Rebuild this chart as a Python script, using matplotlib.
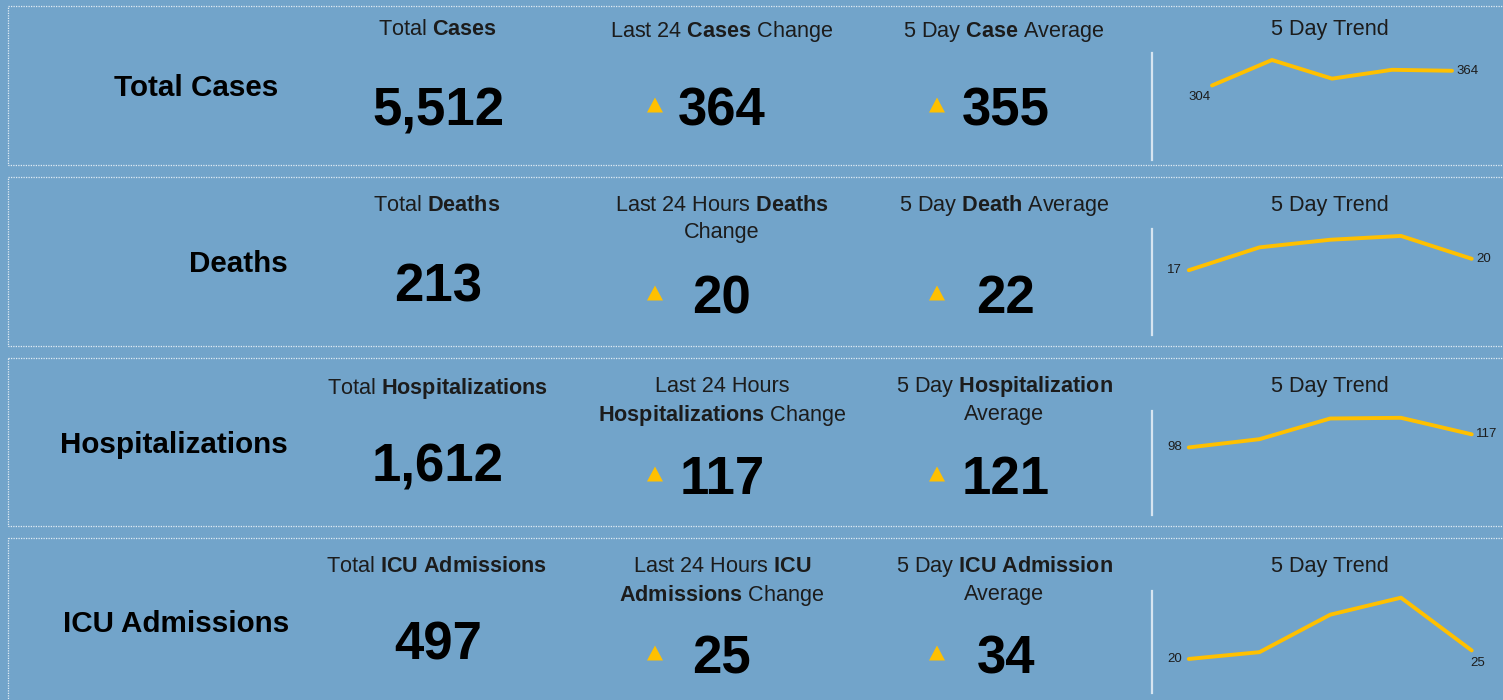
import matplotlib
matplotlib.use("Agg")
import matplotlib.pyplot as plt
from matplotlib.patches import Rectangle, Polygon

plt.rcParams["font.family"] = ["Liberation Sans", "DejaVu Sans"]
plt.rcParams["mathtext.fontset"] = "custom"
plt.rcParams["mathtext.rm"] = "Liberation Sans"
plt.rcParams["mathtext.bf"] = "Liberation Sans:bold"

# --- data ---
row_titles = ["Total Cases", "Deaths", "Hospitalizations", "ICU Admissions"]
total_headers = ["Total $\\mathbf{Cases}$", "Total $\\mathbf{Deaths}$",
                 "Total $\\mathbf{Hospitalizations}$",
                 "Total $\\mathbf{ICU}$ $\\mathbf{Admissions}$"]
change_headers = ["Last 24 $\\mathbf{Cases}$ Change",
                  "Last 24 Hours $\\mathbf{Deaths}$\nChange",
                  "Last 24 Hours\n$\\mathbf{Hospitalizations}$ Change",
                  "Last 24 Hours $\\mathbf{ICU}$\n$\\mathbf{Admissions}$ Change"]
avg_headers = ["5 Day $\\mathbf{Case}$ Average",
               "5 Day $\\mathbf{Death}$ Average",
               "5 Day $\\mathbf{Hospitalization}$\nAverage",
               "5 Day $\\mathbf{ICU}$ $\\mathbf{Admission}$\nAverage"]
totals = [5512, 213, 1612, 497]
changes = [364, 20, 117, 25]
averages = [355, 22, 121, 34]
cases_trend = [304, 408, 332, 368, 364]
deaths_trend = [17, 23, 25, 26, 20]
hosp_trend = [98, 110, 140, 141, 117]
icu_trend = [20, 24, 46, 56, 25]
trends = [cases_trend, deaths_trend, hosp_trend, icu_trend]

# --- layout (pixels) ---
W, H = 1503, 700
BG = "#72A4CA"
GOLD = "#FFC000"
DARK = "#1c1c1c"

panel_tops = [6, 177, 358, 538]
panel_bottoms = [165, 346, 526, 712]
title_x = [278, 288, 288, 289]
title_y = [88, 264, 445, 624]
header_y = [19, 195, 376, 556]
avg_dy = [1, -2, -2, -2]
total_y = [112, 288, 468, 646]
value_y = [111, 299, 480, 659]
spark_top = [53, 229, 411, 591]
spark_bot = [160, 335, 515, 693]
spark_xlim = [(-1.0, 4.8), (-0.52, 4.4), (-0.52, 4.4), (-0.52, 4.4)]
first_off = [(-9, -8, "center"), (-5, 0, "right"), (-5, 0, "right"), (-5, 0, "right")]
last_off = [(3, 0, "left"), (3, 0, "left"), (3, 0, "left"), (4, -9, "center")]

fig = plt.figure(figsize=(W / 100, H / 100), dpi=100, facecolor=BG)
ax = fig.add_axes([0, 0, 1, 1])
ax.set_xlim(0, W)
ax.set_ylim(H, 0)
ax.axis("off")
ax.set_facecolor(BG)


def triangle(cx, cy):
    pts = [(cx - 8, cy + 7.5), (cx + 8, cy + 7.5), (cx, cy - 7.5)]
    ax.add_patch(Polygon(pts, closed=True, color=GOLD, lw=0))


for i in range(4):
    top, bot = panel_tops[i], panel_bottoms[i]
    ax.add_patch(Rectangle((7.5, top), W + 20, bot - top, fill=False,
                           ec="white", lw=0.9, ls=(0, (1, 1)), alpha=0.8))

    ax.text(title_x[i], title_y[i], row_titles[i], ha="right", va="center",
            fontsize=21.3, fontweight="bold", color="black")

    ax.text(437, header_y[i], total_headers[i], ha="center", va="top",
            fontsize=15.6, color=DARK)
    ax.text(722, header_y[i], change_headers[i], ha="center", va="top",
            fontsize=15.6, color=DARK, linespacing=1.35, multialignment="center")
    ax.text(1004, header_y[i] + avg_dy[i], avg_headers[i], ha="center", va="top",
            fontsize=15.6, color=DARK, linespacing=1.3, multialignment="center")
    ax.text(1330, header_y[i], "5 Day Trend", ha="center", va="top",
            fontsize=15.6, color=DARK)

    ax.text(438, total_y[i], f"{totals[i]:,}", ha="center", va="center",
            fontsize=38, fontweight="bold", color="black")

    triangle(655, value_y[i] - 6)
    ax.text(722, value_y[i], f"{changes[i]:,}", ha="center", va="center",
            fontsize=38, fontweight="bold", color="black")
    triangle(937, value_y[i] - 6)
    ax.text(1006, value_y[i], f"{averages[i]:,}", ha="center", va="center",
            fontsize=38, fontweight="bold", color="black")

    # sparkline
    x0, x1 = 1152, 1500
    sax = fig.add_axes([x0 / W, 1 - spark_bot[i] / H, (x1 - x0) / W,
                        (spark_bot[i] - spark_top[i]) / H])
    sax.set_facecolor("none")
    vals = trends[i]
    xs = list(range(len(vals)))
    sax.plot(xs, vals, color=GOLD, lw=2.8, solid_capstyle="round",
             solid_joinstyle="round")
    sax.set_xlim(*spark_xlim[i])
    sax.set_ylim(0, max(vals) * 1.07)
    for s in ["top", "right", "bottom"]:
        sax.spines[s].set_visible(False)
    sax.spines["left"].set_color("#D6E4F0")
    sax.spines["left"].set_linewidth(1.6)
    sax.set_xticks([])
    sax.set_yticks([])
    fx, fy, fha = first_off[i]
    sax.annotate(str(vals[0]), (xs[0], vals[0]), xytext=(fx, fy),
                 textcoords="offset points", ha=fha, va="center",
                 fontsize=9.5, color=DARK)
    lx, ly, lha = last_off[i]
    sax.annotate(str(vals[-1]), (xs[-1], vals[-1]), xytext=(lx, ly),
                 textcoords="offset points", ha=lha, va="center",
                 fontsize=9.5, color=DARK)

fig.savefig("out.png", dpi=100, facecolor=BG)
